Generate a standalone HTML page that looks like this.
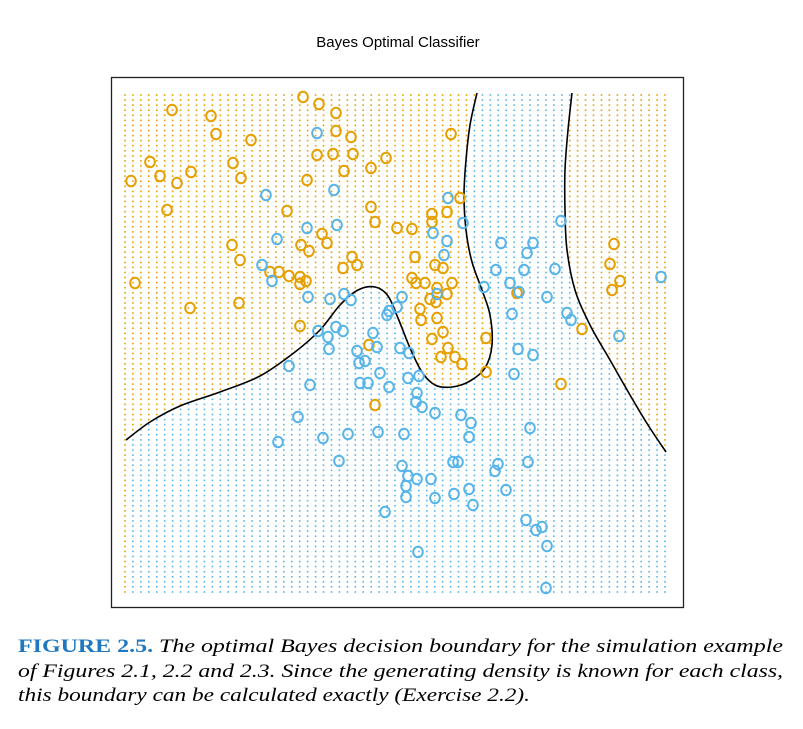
<!DOCTYPE html>
<html><head><meta charset="utf-8"><style>
html,body{margin:0;padding:0;background:#fff;}
svg{display:block;}
</style></head><body>
<svg id="chart" width="803" height="729" viewBox="0 0 803 729">
<text x="398" y="47" text-anchor="middle" font-family="Liberation Sans, sans-serif" font-size="15">Bayes Optimal Classifier</text>
<g id="grid"></g>
<path id="b1" fill="none" stroke="#000" stroke-width="1.6"></path>
<path id="b2" fill="none" stroke="#000" stroke-width="1.6"></path>
<g id="pts"></g>
<rect x="111.5" y="77.5" width="572" height="530" fill="none" stroke="#222" stroke-width="1.3"></rect>
<g font-family="Liberation Serif, serif" font-size="19">
<text x="18" y="652" textLength="765" lengthAdjust="spacingAndGlyphs"><tspan font-weight="bold" fill="#1f78c0">FIGURE 2.5.</tspan><tspan font-style="italic"> The optimal Bayes decision boundary for the simulation example</tspan></text>
<text x="18" y="677" textLength="765" lengthAdjust="spacingAndGlyphs" font-style="italic">of Figures 2.1, 2.2 and 2.3. Since the generating density is known for each class,</text>
<text x="18" y="701" textLength="512" lengthAdjust="spacingAndGlyphs" font-style="italic">this boundary can be calculated exactly (Exercise 2.2).</text>
</g>
</svg>
<script>
const orangePts = [[172,110],[211,116],[216,134],[251,140],[303,97],[319,104],[336,113],[336,131],[351,137],[317,155],[333,154],[353,154],[386,158],[150,162],[160,176],[177,183],[191,172],[131,181],[233,163],[241,178],[167,210],[287,211],[307,180],[344,171],[371,168],[371,207],[375,222],[397,228],[412,229],[432,214],[432,222],[447,212],[460,198],[451,134],[232,245],[240,260],[270,272],[279,272],[289,276],[300,277],[309,251],[301,245],[322,234],[327,243],[343,268],[357,265],[352,257],[415,257],[435,265],[443,268],[412,278],[416,283],[425,283],[437,288],[430,299],[436,302],[420,309],[421,320],[437,318],[447,294],[452,283],[443,332],[432,339],[300,284],[306,281],[135,283],[190,308],[239,303],[300,326],[369,345],[375,405],[448,348],[441,357],[455,357],[462,364],[486,372],[486,338],[517,293],[561,384],[582,329],[610,264],[614,244],[620,281],[612,290]];
const bluePts = [[317,133],[334,190],[266,195],[277,239],[307,228],[337,225],[262,265],[272,281],[308,297],[330,299],[344,294],[351,300],[336,327],[318,331],[328,337],[329,349],[343,331],[357,351],[365,361],[373,333],[389,311],[387,315],[397,307],[402,297],[433,233],[447,241],[463,223],[448,198],[437,294],[444,255],[400,348],[409,353],[408,378],[419,376],[360,383],[368,383],[380,373],[389,387],[310,385],[289,366],[359,363],[377,347],[417,393],[416,402],[422,407],[435,413],[461,415],[471,423],[469,437],[298,417],[278,442],[323,438],[348,434],[378,432],[404,434],[339,461],[402,466],[408,476],[406,486],[417,479],[431,479],[453,462],[458,462],[498,464],[528,462],[495,471],[469,489],[454,494],[435,498],[406,497],[473,505],[506,490],[385,512],[526,520],[536,530],[542,527],[547,546],[418,552],[546,588],[501,243],[496,270],[510,283],[524,270],[519,292],[533,243],[527,253],[533,355],[518,349],[512,314],[514,374],[530,428],[547,297],[555,269],[567,313],[571,320],[619,336],[661,277],[561,221],[484,287]];
const NS='http://www.w3.org/2000/svg';
const b1=[[126,440],[150,422],[180,406],[220,392],[260,376],[295,352],[320,330],[340,305],[358,290],[375,287],[388,296],[398,318],[410,348],[422,372],[435,385],[452,387],[470,381],[485,368],[492,345],[490,315],[482,290],[472,262],[466,230],[464,195],[466,160],[470,125],[477,93]];
const b2=[[572,93],[568,130],[565,170],[565,210],[567,250],[575,290],[590,325],[610,360],[630,395],[648,425],[666,452]];
function smooth(p){let d='M'+p[0][0]+','+p[0][1];for(let i=0;i<p.length-1;i++){const p0=p[i-1]||p[i],p1=p[i],p2=p[i+1],p3=p[i+2]||p2;const c1=[p1[0]+(p2[0]-p0[0])/6,p1[1]+(p2[1]-p0[1])/6],c2=[p2[0]-(p3[0]-p1[0])/6,p2[1]-(p3[1]-p1[1])/6];d+=' C'+c1[0].toFixed(1)+','+c1[1].toFixed(1)+' '+c2[0].toFixed(1)+','+c2[1].toFixed(1)+' '+p2[0]+','+p2[1];}return d;}
document.getElementById('b1').setAttribute('d',smooth(b1));
document.getElementById('b2').setAttribute('d',smooth(b2));
const poly=b1.concat(b2,[[666,600],[126,600]]);
function inside(x,y){let c=false;for(let i=0,j=poly.length-1;i<poly.length;j=i++){const [xi,yi]=poly[i],[xj,yj]=poly[j];if(((yi>y)!==(yj>y))&&(x<(xj-xi)*(y-yi)/(yj-yi)+xi))c=!c;}return c;}
const g=document.getElementById('grid');
let html='';
for(let i=0;i<69;i++){const x=125+i*540/68;for(let j=0;j<99;j++){const y=95+j*497/98;const col=inside(x,y)?'#56B4E9':'#E69F00';html+='<rect x="'+(x-0.8).toFixed(1)+'" y="'+(y-0.8).toFixed(1)+'" width="1.6" height="1.6" fill="'+col+'"/>';}}
g.innerHTML=html;
const pg=document.getElementById('pts');
function addPts(arr,col,name){arr.forEach(p=>{const c=document.createElementNS(NS,'ellipse');c.setAttribute('cx',p[0]);c.setAttribute('cy',p[1]);c.setAttribute('rx',4.8);c.setAttribute('ry',5.3);c.setAttribute('fill','none');c.setAttribute('stroke',col);c.setAttribute('stroke-width',2);


pg.appendChild(c);});}
addPts(orangePts,'#E69F00','orange-point');
addPts(bluePts,'#56B4E9','blue-point');
</script>
</body></html>
